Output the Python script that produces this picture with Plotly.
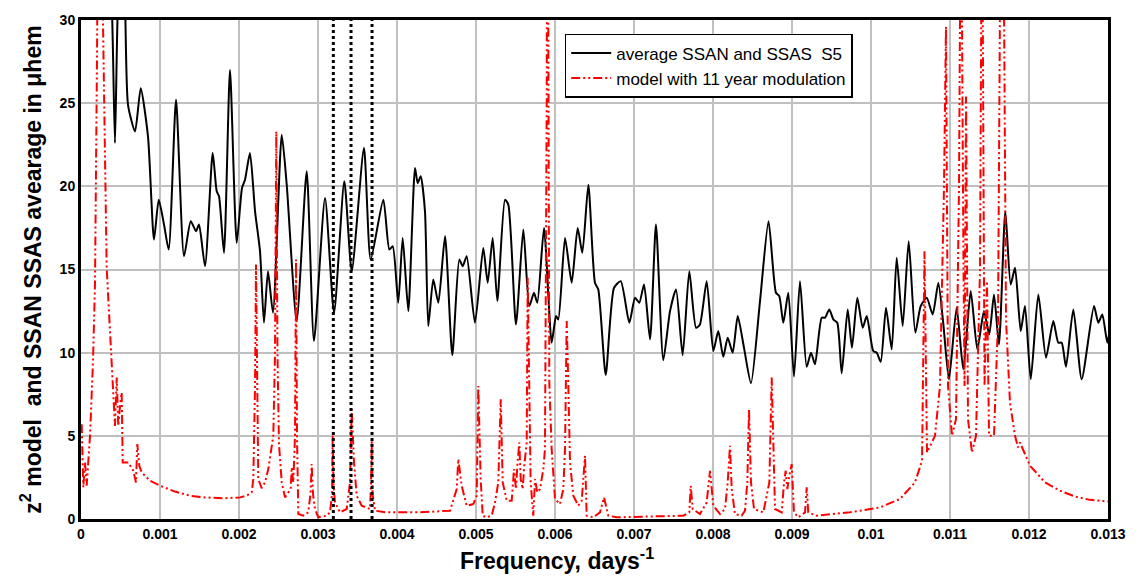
import plotly.graph_objects as go

# ---- data (frequency in units of 1e-3 days^-1) ----
black_f_e3 = [0.342, 0.392, 0.430, 0.468, 0.519, 0.557, 0.595, 0.684, 0.756, 0.848,
              0.924, 0.984, 1.051, 1.110, 1.203, 1.304, 1.389, 1.456, 1.494, 1.570,
              1.667, 1.718, 1.747, 1.810, 1.886, 1.971, 2.038, 2.076, 2.139, 2.203,
              2.266, 2.316, 2.367, 2.430, 2.541, 2.604, 2.730, 2.857, 2.949, 3.089,
              3.203, 3.333, 3.427, 3.582, 3.667, 3.827, 3.903, 3.946, 4.016, 4.072,
              4.143, 4.228, 4.262, 4.300, 4.354, 4.396, 4.459, 4.523, 4.608, 4.700,
              4.789, 4.832, 4.882, 4.987, 5.092, 5.148, 5.211, 5.270, 5.367, 5.409,
              5.506, 5.599, 5.675, 5.734, 5.776, 5.861, 5.958, 6.013, 6.042, 6.127,
              6.211, 6.287, 6.346, 6.422, 6.506, 6.548, 6.642, 6.747, 6.832, 6.941,
              7.013, 7.067, 7.127, 7.203, 7.278, 7.371, 7.456, 7.532, 7.616, 7.700,
              7.785, 7.835, 7.920, 8.004, 8.067, 8.130, 8.186, 8.249, 8.313, 8.392,
              8.481, 8.595, 8.703, 8.797, 8.839, 8.890, 8.953, 9.025, 9.101, 9.186,
              9.241, 9.291, 9.376, 9.418, 9.472, 9.523, 9.573, 9.629, 9.705, 9.759,
              9.827, 9.895, 9.946, 10.029, 10.072, 10.123, 10.190, 10.262, 10.325, 10.401,
              10.477, 10.561, 10.629, 10.705, 10.781, 10.852, 10.916, 10.987, 11.084, 11.168,
              11.262, 11.346, 11.430, 11.497, 11.557, 11.620, 11.700, 11.768, 11.823, 11.895,
              11.949, 12.022, 12.118, 12.215, 12.308, 12.371, 12.414, 12.468, 12.561, 12.667,
              12.823, 12.877, 12.928, 12.991, 13.025]
black_val = [34.0, 30.5, 22.6, 31.0, 34.0, 31.0, 24.9, 23.3, 25.9, 23.0,
             16.8, 19.2, 17.7, 16.2, 25.2, 15.8, 17.9, 17.3, 17.7, 15.2,
             22.0, 19.7, 19.4, 16.0, 27.0, 16.6, 19.9, 20.4, 22.0, 18.5,
             16.1, 11.8, 14.9, 12.4, 23.1, 20.1, 11.9, 20.9, 10.7, 19.3,
             12.4, 20.3, 14.9, 22.3, 15.6, 19.2, 16.2, 16.4, 13.0, 16.9,
             12.5, 21.1, 20.2, 20.6, 18.5, 11.6, 14.4, 13.0, 17.0, 9.85,
             15.6, 15.2, 15.8, 11.8, 16.3, 14.2, 16.9, 13.1, 19.2, 18.9,
             11.7, 17.4, 12.8, 13.6, 13.0, 17.5, 10.6, 12.2, 12.0, 16.9,
             14.2, 17.5, 16.0, 20.1, 14.2, 13.8, 8.66, 13.9, 14.3, 11.8,
             13.3, 13.0, 14.1, 10.8, 17.7, 9.55, 12.5, 13.8, 9.85, 14.9,
             11.5, 11.7, 14.3, 10.1, 11.3, 9.75, 10.9, 10.0, 12.2, 10.3,
             8.16, 13.1, 17.9, 13.6, 13.4, 11.8, 13.6, 8.56, 14.3, 9.15,
             10.0, 9.3, 12.1, 12.1, 12.6, 12.0, 11.8, 8.76, 12.6, 10.3,
             13.3, 11.5, 12.2, 10.1, 10.0, 9.45, 12.7, 10.2, 15.7, 11.6,
             16.7, 11.2, 12.8, 13.3, 12.3, 14.2, 11.7, 8.4, 12.7, 9.0,
             13.7, 10.2, 12.5, 11.1, 13.5, 10.5, 18.5, 14.1, 15.1, 11.3,
             12.8, 8.4, 13.5, 9.7, 11.9, 10.6, 10.6, 9.15, 12.6, 8.4,
             12.8, 11.8, 12.3, 10.6, 11.5]

red_f_e3 = [0.009, 0.029, 0.051, 0.072, 0.114, 0.152, 0.177, 0.203, 0.241, 0.278,
            0.325, 0.389, 0.409, 0.430, 0.452, 0.472, 0.494, 0.515, 0.528, 0.599,
            0.662, 0.696, 0.713, 0.738, 0.768, 0.873, 1.000, 1.190, 1.380, 1.570,
            1.801, 2.013, 2.097, 2.161, 2.181, 2.203, 2.215, 2.228, 2.244, 2.287,
            2.329, 2.371, 2.434, 2.456, 2.472, 2.487, 2.506, 2.541, 2.582, 2.654,
            2.667, 2.687, 2.709, 2.722, 2.734, 2.751, 2.814, 2.877, 2.905, 2.920,
            2.937, 2.962, 3.004, 3.110, 3.152, 3.177, 3.186, 3.196, 3.215, 3.278,
            3.363, 3.405, 3.427, 3.456, 3.490, 3.553, 3.658, 3.671, 3.680, 3.690,
            3.722, 3.870, 4.291, 4.671, 4.756, 4.776, 4.819, 4.882, 4.966, 5.009,
            5.029, 5.059, 5.085, 5.135, 5.199, 5.241, 5.282, 5.313, 5.338, 5.389,
            5.452, 5.481, 5.506, 5.523, 5.548, 5.566, 5.591, 5.611, 5.642, 5.654,
            5.671, 5.692, 5.725, 5.747, 5.776, 5.810, 5.852, 5.873, 5.895, 5.905,
            5.918, 5.928, 5.958, 6.000, 6.063, 6.105, 6.127, 6.148, 6.168, 6.190,
            6.232, 6.295, 6.338, 6.380, 6.401, 6.485, 6.570, 6.620, 6.675, 6.781,
            7.624, 7.700, 7.718, 7.743, 7.835, 7.920, 7.962, 8.004, 8.089, 8.152,
            8.186, 8.215, 8.237, 8.278, 8.363, 8.405, 8.434, 8.456, 8.481, 8.519,
            8.637, 8.680, 8.713, 8.743, 8.763, 8.785, 8.870, 8.899, 8.920, 8.941,
            8.966, 8.996, 9.025, 9.080, 9.165, 9.186, 9.206, 9.312, 9.734, 10.114,
            10.367, 10.557, 10.646, 10.677, 10.709, 10.810, 10.873, 10.924, 10.949, 10.975,
            11.025, 11.076, 11.114, 11.139, 11.171, 11.184, 11.203, 11.228, 11.278, 11.329,
            11.380, 11.405, 11.437, 11.468, 11.494, 11.557, 11.608, 11.658, 11.709, 11.759,
            11.823, 11.861, 11.886, 12.013, 12.203, 12.392, 12.582, 12.772, 13.000]
red_val = [5.7, 1.9, 3.4, 2.0, 5.0, 9.5, 14.1, 28.0, 60.0, 30.0,
           15.1, 9.4, 8.0, 5.6, 8.5, 5.6, 6.8, 7.6, 3.4, 3.4,
           2.9, 2.2, 4.5, 3.2, 2.8, 2.3, 2.0, 1.65, 1.4, 1.3,
           1.24, 1.3, 1.4, 1.6, 2.4, 8.0, 15.3, 8.0, 2.4, 1.85,
           2.2, 3.0, 5.0, 10.0, 23.3, 10.0, 4.5, 2.2, 1.3, 1.8,
           3.1, 2.2, 5.0, 15.6, 5.0, 0.3, 0.2, 0.4, 1.5, 3.3,
           1.5, 0.6, 0.1, 0.2, 0.4, 1.5, 5.0, 2.0, 1.0, 0.4,
           0.6, 2.2, 6.6, 3.4, 1.4, 0.8, 0.6, 2.0, 4.7, 1.5,
           0.5, 0.4, 0.4, 0.5, 1.8, 3.6, 2.0, 0.8, 0.9, 1.4,
           8.0, 2.4, 0.2, 0.1, 0.2, 1.0, 2.2, 7.2, 2.2, 1.1,
           1.1, 3.0, 1.8, 3.2, 4.6, 2.4, 1.8, 3.2, 4.6, 14.5,
           8.2, 2.2, 0.2, 2.4, 1.6, 1.8, 3.0, 4.2, 25.0, 45.0,
           25.0, 8.2, 4.2, 1.2, 0.9, 1.8, 4.2, 11.9, 8.2, 3.4,
           1.4, 0.8, 1.1, 3.8, 0.2, 0.1, 0.4, 1.3, 0.2, 0.1,
           0.2, 0.4, 2.0, 0.6, 0.3, 1.0, 2.9, 0.8, 0.3, 0.6,
           2.2, 4.4, 1.8, 0.3, 0.2, 0.5, 2.2, 6.6, 2.2, 0.6,
           0.4, 1.4, 2.2, 8.5, 5.0, 0.6, 0.4, 2.2, 2.9, 1.8,
           2.6, 3.3, 0.4, 0.1, 0.4, 1.9, 0.4, 0.2, 0.4, 0.7,
           1.2, 2.2, 3.5, 16.1, 4.0, 5.0, 8.0, 20.0, 29.6, 8.0,
           5.0, 6.0, 20.0, 40.0, 15.0, 8.0, 25.4, 6.0, 4.0, 5.0,
           15.0, 40.0, 8.0, 14.3, 5.0, 5.0, 12.0, 50.0, 12.0, 7.0,
           5.0, 4.3, 4.6, 3.2, 2.2, 1.7, 1.35, 1.15, 1.05]

dotted_f_e3 = [3.194, 3.418, 3.684]
dotted_span = [0, 30]

x_tick_vals_e3 = list(range(0, 14))
x_tick_text = ["0", "0.001", "0.002", "0.003", "0.004", "0.005", "0.006", "0.007",
               "0.008", "0.009", "0.01", "0.011", "0.012", "0.013"]
y_tick_vals = [0, 5, 10, 15, 20, 25, 30]

scale = 1e-3
FONT = "Arial, Liberation Sans, sans-serif"

fig = go.Figure()

fig.add_trace(go.Scatter(
    x=[v * scale for v in black_f_e3], y=black_val, mode="lines",
    name="average SSAN and SSAS  S5",
    line=dict(color="black", width=2, shape="spline", smoothing=0.6),
))
fig.add_trace(go.Scatter(
    x=[v * scale for v in red_f_e3], y=red_val, mode="lines",
    name="model with 11 year modulation",
    line=dict(color="#ff0000", width=2, dash="9px,3px,2px,3px,2px,3px"),
))
for f in dotted_f_e3:
    fig.add_trace(go.Scatter(
        x=[f * scale, f * scale], y=dotted_span, mode="lines", showlegend=False,
        line=dict(color="black", width=3, dash="dot"), hoverinfo="skip",
    ))

fig.update_layout(
    width=1141, height=577,
    margin=dict(l=81, r=33, t=18, b=58),
    paper_bgcolor="white", plot_bgcolor="white",
    font=dict(family=FONT, color="black"),
    legend=dict(
        x=0.471, y=0.972, xanchor="left", yanchor="top",
        bgcolor="white", bordercolor="black", borderwidth=1.5,
        font=dict(size=17, family=FONT), tracegroupgap=0,
        itemwidth=40,
    ),
    annotations=[dict(
        text="<b>Frequency, days<sup>-1</sup></b>",
        xref="paper", yref="paper", x=0.4635, y=-0.080,
        xanchor="center", yanchor="middle", showarrow=False,
        font=dict(size=23, family=FONT, color="black"),
    )],
)
fig.update_xaxes(
    range=[0, 0.013], tickvals=[v * scale for v in x_tick_vals_e3],
    ticktext=[f"<b>{t}</b>" for t in x_tick_text],
    showgrid=True, gridcolor="#c0c0c0", gridwidth=1.5,
    showline=True, linecolor="black", linewidth=3, mirror=True,
    ticks="", tickfont=dict(size=14, family=FONT),
    zeroline=False,
)
fig.update_yaxes(
    range=[0, 30], tickvals=y_tick_vals,
    ticktext=[f"<b>{v}</b>" for v in y_tick_vals],
    showgrid=True, gridcolor="#c0c0c0", gridwidth=1.5,
    showline=True, linecolor="black", linewidth=3, mirror=True,
    ticks="", tickfont=dict(size=14, family=FONT),
    title=dict(text="<b>z<sup>2</sup> model  and SSAN SSAS avearage in \u03bchem</b>",
               font=dict(size=23, family=FONT), standoff=12),
    zeroline=False,
)

fig.write_html("out.html")
